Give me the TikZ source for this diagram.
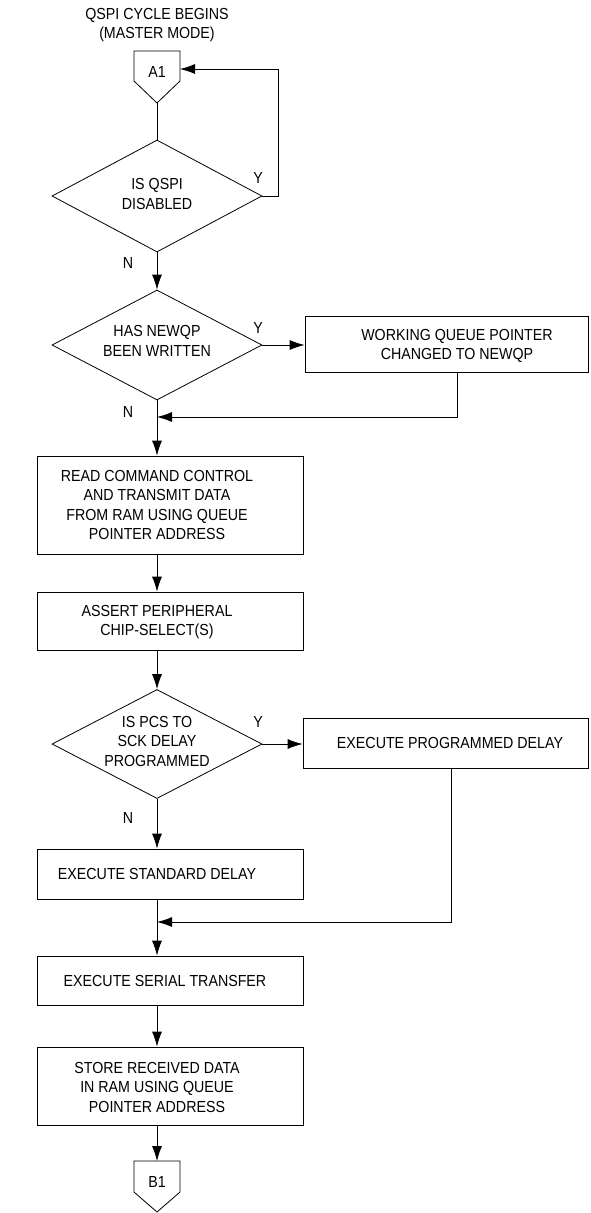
\documentclass[tikz,border=0pt]{standalone}
\usepackage{fontspec}
\setmainfont{Liberation Sans}[FakeStretch=0.89]
\usetikzlibrary{arrows.meta,shapes.geometric,calc}

\tikzset{
  box/.style={draw, rectangle, inner sep=0pt},
  dec/.style={draw, diamond, inner sep=0pt, minimum width=210pt},
  txt/.style={align=center, inner sep=0pt},
}

\begin{document}
\begin{tikzpicture}[x=1pt, y=-1pt, line width=0.8pt, >={Latex[length=15pt,width=10pt]},
    font=\fontsize{16}{19.5}\selectfont]
    \useasboundingbox (0,0) rectangle (590,1213);

    \coordinate (ax) at (157,0);
    \coordinate (m1) at (157,417);
    \coordinate (m2) at (157,922);

    \node[txt] (title) at (157,25) {QSPI CYCLE BEGINS\\(MASTER MODE)};

    % off-page connector A1
    \draw (134,51) -- (180,51) -- (180,81) -- (157,103) -- (134,81) -- cycle;
    \node[txt] (a1) at (157,72) {A1};
    \coordinate (a1tip) at (157,103);
    \coordinate (a1in) at (180,69);

    \node[dec, minimum height=112pt] (d1) at (157,196) {};
    \node[txt] (d1t) at (157,194) {IS QSPI\\DISABLED};

    \node[dec, minimum height=110pt] (d2) at (157,345) {};
    \node[txt] (d2t) at (157,341) {HAS NEWQP\\BEEN WRITTEN};

    \node[box, minimum width=283pt, minimum height=56pt] (wqp) at (446.5,344) {};
    \node[txt] (wqpt) at (457,346) {WORKING QUEUE POINTER\\CHANGED TO NEWQP};

    \node[box, minimum width=266pt, minimum height=98pt] (rd) at (170,505) {};
    \node[txt] (rdt) at (157,505) {READ COMMAND CONTROL\\AND TRANSMIT DATA\\FROM RAM USING QUEUE\\POINTER ADDRESS};

    \node[box, minimum width=266pt, minimum height=58pt] (pcs) at (170,621) {};
    \node[txt] (pcst) at (157,622) {ASSERT PERIPHERAL\\CHIP-SELECT(S)};

    \node[dec, minimum height=109pt] (d3) at (157,744) {};
    \node[txt] (d3t) at (157,741) {IS PCS TO\\SCK DELAY\\PROGRAMMED};

    \node[box, minimum width=285pt, minimum height=50pt] (pdly) at (445.5,743) {};
    \node[txt] (pdlyt) at (450,743) {EXECUTE PROGRAMMED DELAY};

    \node[box, minimum width=266pt, minimum height=50pt] (sdly) at (170,874) {};
    \node[txt] (sdlyt) at (157,874) {EXECUTE STANDARD DELAY};

    \node[box, minimum width=266pt, minimum height=49pt] (xfer) at (170,980.5) {};
    \node[txt] (xfert) at (165,981) {EXECUTE SERIAL TRANSFER};

    \node[box, minimum width=266pt, minimum height=78pt] (st) at (170,1086) {};
    \node[txt] (stt) at (157,1087) {STORE RECEIVED DATA\\IN RAM USING QUEUE\\POINTER ADDRESS};

    % off-page connector B1
    \draw (134,1161) -- (180,1161) -- (180,1192) -- (157,1212) -- (134,1192) -- cycle;
    \node[txt] (b1) at (157,1182) {B1};
    \coordinate (b1top) at (157,1161);

    \node (y1) at (258,178) {Y};
    \node (n1) at (128,263) {N};
    \node (y2) at (258,328) {Y};
    \node (n2) at (128,412) {N};
    \node (y3) at (258,722) {Y};
    \node (n3) at (128,818) {N};

    \draw (a1tip) -- (d1.north);
    \draw[->] (d1.east) -- ++(16,0) |- (a1in);
    \draw[->] (d1.south) -- (d2.north);
    \draw[->] (d2.east) -- (d2.east -| wqp.west);
    \draw[->] (d2.south) -- (rd.north -| ax);
    \draw[->] ([xshift=10.5pt]wqp.south) |- (m1);
    \draw[->] (rd.south -| ax) -- (pcs.north -| ax);
    \draw[->] (pcs.south -| ax) -- (d3.north);
    \draw[->] (d3.east) -- (d3.east -| pdly.west);
    \draw[->] (d3.south) -- (sdly.north -| ax);
    \draw[->] ([xshift=5.5pt]pdly.south) |- (m2);
    \draw[->] (sdly.south -| ax) -- (xfer.north -| ax);
    \draw[->] (xfer.south -| ax) -- (st.north -| ax);
    \draw[->] (st.south -| ax) -- (b1top);
\end{tikzpicture}
\end{document}
